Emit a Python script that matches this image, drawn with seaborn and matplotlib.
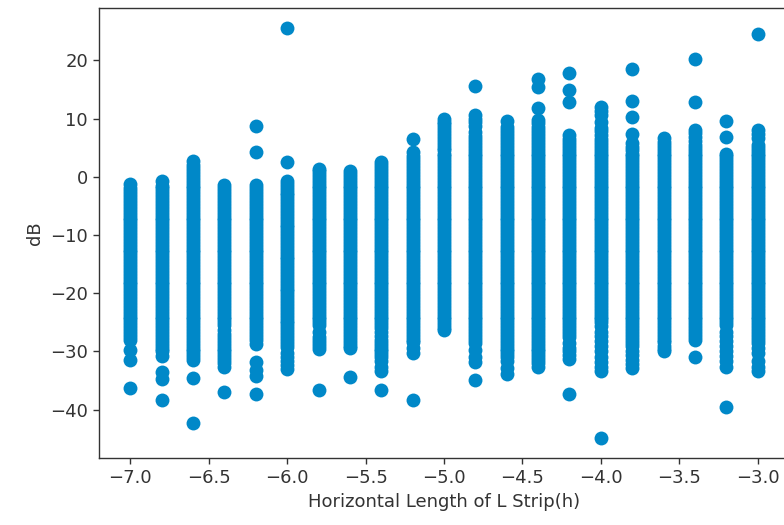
import pandas as pd
import matplotlib
matplotlib.use('Agg')
import matplotlib.pyplot as plt
import seaborn as sns

# values per column (dB)
h_values = [-7.0, -6.8, -6.6, -6.4, -6.2, -6.0, -5.8, -5.6, -5.4, -5.2, -5.0,
            -4.8, -4.6, -4.4, -4.2, -4.0, -3.8, -3.6, -3.4, -3.2, -3.0]

db_70 = [-1.3, -2, -2.5, -3, -3.5, -4, -4.5, -5, -5.5, -6, -6.5, -7, -7.5, -8, -8.5, -9,
         -9.5, -10, -10.5, -11, -11.5, -12, -12.5, -13, -13.5, -14, -14.5, -15, -15.5, -16,
         -16.5, -17, -17.5, -18, -18.5, -19, -19.5, -20, -20.5, -21, -21.5, -22, -22.5, -23,
         -23.5, -24, -24.5, -25, -25.5, -26, -26.5, -27, -27.5, -28, -29.7, -31.4, -36.3]
db_68 = [-0.7, -1.5, -2, -2.5, -3, -3.5, -4, -4.5, -5, -5.5, -6, -6.5, -7, -7.5, -8, -8.5,
         -9, -9.5, -10, -10.5, -11, -11.5, -12, -12.5, -13, -13.5, -14, -14.5, -15, -15.5,
         -16, -16.5, -17, -17.5, -18, -18.5, -19, -19.5, -20, -20.5, -21, -21.5, -22, -22.5,
         -23, -23.5, -24, -24.5, -25, -25.5, -26, -26.5, -27, -27.5, -28, -28.5, -29, -29.5,
         -30, -30.8, -33.6, -34.8, -38.3]
db_66 = [2.7, 2, 1.5, 1, 0.5, 0, -0.5, -1, -1.5, -2, -2.5, -3, -3.5, -4, -4.5, -5, -5.5,
         -6, -6.5, -7, -7.5, -8, -8.5, -9, -9.5, -10, -10.5, -11, -11.5, -12, -12.5, -13,
         -13.5, -14, -14.5, -15, -15.5, -16, -16.5, -17, -17.5, -18, -18.5, -19, -19.5, -20,
         -20.5, -21, -21.5, -22, -22.5, -23, -23.5, -24, -24.5, -25, -25.5, -26, -26.5, -27,
         -27.5, -28, -28.5, -29, -29.5, -30, -30.5, -31, -31.5, -34.5, -42.3]
db_64 = [-1.4, -2, -2.5, -3, -3.5, -4, -4.5, -5, -5.5, -6, -6.5, -7, -7.5, -8, -8.5, -9,
         -9.5, -10, -10.5, -11, -11.5, -12, -12.5, -13, -13.5, -14, -14.5, -15, -15.5, -16,
         -16.5, -17, -17.5, -18, -18.5, -19, -19.5, -20, -20.5, -21, -21.5, -22, -22.5, -23,
         -23.5, -24, -24.5, -25, -25.5, -26.3, -27, -27.5, -28, -28.5, -29, -29.5, -30,
         -30.5, -31, -31.5, -32, -32.7, -36.9]
db_62 = [8.8, 4.2, -1.4, -2, -2.5, -3, -3.5, -4, -4.5, -5, -5.5, -6, -6.5, -7, -7.5, -8,
         -8.5, -9, -9.5, -10, -10.5, -11, -11.5, -12, -12.5, -13, -13.5, -14, -14.5, -15,
         -15.5, -16, -16.5, -17, -17.5, -18, -18.5, -19, -19.5, -20, -20.5, -21, -21.5, -22,
         -22.5, -23, -23.5, -24, -24.5, -25, -25.5, -26, -26.5, -27, -27.5, -28, -28.8, -31.9,
         -33.2, -34.2, -37.3]
db_60 = [25.5, 2.5, -0.7, -1.2, -1.7, -2.2, -2.7, -3.2, -3.7, -4.2, -4.7, -5.2, -5.7, -6.2,
         -6.7, -7.2, -7.7, -8.2, -8.7, -9.2, -9.7, -10.2, -10.7, -11.2, -11.7, -12.2, -12.7,
         -13.2, -13.7, -14.2, -14.7, -15.2, -15.7, -16.2, -16.7, -17.2, -17.7, -18.2, -18.7,
         -19.2, -19.7, -20.2, -20.7, -21.2, -21.7, -22.2, -22.7, -23.2, -23.7, -24.2, -24.7,
         -25.2, -25.7, -26.2, -26.7, -27.2, -27.7, -28.2, -28.7, -29.2, -30.2, -31, -31.6,
         -32.3, -33.1]
db_58 = [1.4, 1, 0.5, 0, -0.5, -1, -1.5, -2, -2.5, -3, -3.5, -4, -4.5, -5, -5.5, -6, -6.5,
         -7, -7.5, -8, -8.5, -9, -9.5, -10, -10.5, -11, -11.5, -12, -12.5, -13, -13.5, -14,
         -14.5, -15, -15.5, -16, -16.5, -17, -17.5, -18, -18.5, -19, -19.5, -20, -20.5, -21,
         -21.5, -22, -22.5, -23, -23.5, -24, -24.5, -25, -25.5, -26.6, -27.5, -28, -28.5,
         -29, -29.6, -36.6]
db_56 = [1.0, 0.5, 0, -0.5, -1, -1.5, -2, -2.5, -3, -3.5, -4, -4.5, -5, -5.5, -6, -6.5, -7,
         -7.5, -8, -8.5, -9, -9.5, -10, -10.5, -11, -11.5, -12, -12.5, -13, -13.5, -14,
         -14.5, -15, -15.5, -16, -16.5, -17, -17.5, -18, -18.5, -19, -19.5, -20, -20.5, -21,
         -21.5, -22, -22.5, -23, -23.5, -24, -24.5, -25, -25.5, -26, -26.5, -27, -27.5, -28,
         -28.5, -29, -29.4, -34.4]
db_54 = [2.5, 2, 1.5, 1, 0.5, 0, -0.5, -1, -1.5, -2, -2.5, -3, -3.5, -4, -4.5, -5, -5.5,
         -6, -6.5, -7, -7.5, -8, -8.5, -9, -9.5, -10, -10.5, -11, -11.5, -12, -12.5, -13,
         -13.5, -14, -14.5, -15, -15.5, -16, -16.5, -17, -17.5, -18, -18.5, -19, -19.5, -20,
         -20.5, -21, -21.5, -22, -22.5, -23, -23.5, -24, -24.5, -25, -25.5, -26, -26.6,
         -27.4, -28, -28.5, -29, -29.5, -30, -30.5, -31, -31.7, -32.6, -33.4, -36.6]
db_52 = [6.5, 4.2, 3.5, 3, 2.5, 2, 1.5, 1, 0.5, 0, -0.5, -1, -1.5, -2, -2.5, -3, -3.5, -4,
         -4.5, -5, -5.5, -6, -6.5, -7, -7.5, -8, -8.5, -9, -9.5, -10, -10.5, -11, -11.5, -12,
         -12.5, -13, -13.5, -14, -14.5, -15, -15.5, -16, -16.5, -17, -17.5, -18, -18.5, -19,
         -19.5, -20, -20.5, -21, -21.5, -22, -22.5, -23, -23.5, -24, -24.5, -25, -25.5, -26,
         -26.5, -27, -27.5, -28, -28.3, -29.4, -30.2, -38.4]
db_50 = [9.9, 9.5, 9, 8.5, 8, 7.5, 7, 6.5, 6, 5.5, 5, 4.6, 4, 3.5, 3, 2.5, 2, 1.5, 1, 0.5,
         0, -0.5, -1, -1.5, -2, -2.5, -3, -3.5, -4, -4.5, -5, -5.5, -6, -6.5, -7, -7.5, -8,
         -8.5, -9, -9.5, -10, -10.5, -11, -11.5, -12, -12.5, -13, -13.5, -14, -14.5, -15,
         -15.5, -16, -16.5, -17, -17.5, -18, -18.5, -19, -19.5, -20, -20.5, -21, -21.5, -22,
         -22.5, -23, -23.5, -24, -24.5, -25, -25.5, -26, -26.4]
db_48 = [15.6, 10.6, 10, 9.5, 8.8, 7.7, 7, 6.5, 6, 5.5, 5, 4.5, 4, 3.5, 3, 2.5, 2, 1.5, 1,
         0.5, 0, -0.5, -1, -1.5, -2, -2.5, -3, -3.5, -4, -4.5, -5, -5.5, -6, -6.5, -7, -7.5,
         -8, -8.5, -9, -9.5, -10, -10.5, -11, -11.5, -12, -12.5, -13, -13.5, -14, -14.5, -15,
         -15.5, -16, -16.5, -17, -17.5, -18, -18.5, -19, -19.5, -20, -20.5, -21, -21.5, -22,
         -22.5, -23, -23.5, -24, -24.5, -25, -25.5, -26, -26.5, -27, -27.5, -28, -28.5,
         -29.7, -30.9, -31.9, -34.9]
db_46 = [9.6, 8.6, 8, 7.5, 7, 6.5, 6, 5.5, 5, 4.5, 4, 3.5, 3, 2.5, 2, 1.5, 1, 0.5, 0, -0.5,
         -1, -1.5, -2, -2.5, -3, -3.5, -4, -4.5, -5, -5.5, -6, -6.5, -7, -7.5, -8, -8.5, -9,
         -9.5, -10, -10.5, -11, -11.5, -12, -12.5, -13, -13.5, -14, -14.5, -15, -15.5, -16,
         -16.5, -17, -17.5, -18, -18.5, -19, -19.5, -20, -20.5, -21, -21.5, -22, -22.5, -23,
         -23.5, -24, -24.5, -25, -25.5, -26, -26.5, -27, -27.5, -28, -28.5, -29, -29.5, -30,
         -30.5, -31, -31.7, -32.9, -33.9]
db_44 = [16.8, 15.5, 11.9, 9.8, 9.2, 8.6, 8, 7.5, 7, 6.5, 6, 5.5, 5, 4.5, 4, 3.5, 3, 2.5, 2,
         1.5, 1, 0.5, 0, -0.5, -1, -1.5, -2, -2.5, -3, -3.5, -4, -4.5, -5, -5.5, -6, -6.5, -7,
         -7.5, -8, -8.5, -9, -9.5, -10, -10.5, -11, -11.5, -12, -12.5, -13, -13.5, -14, -14.5,
         -15, -15.5, -16, -16.5, -17, -17.5, -18, -18.5, -19, -19.5, -20, -20.5, -21, -21.5,
         -22, -22.5, -23, -23.5, -24, -24.5, -25, -25.5, -26, -26.5, -27, -27.5, -28, -28.5,
         -29, -29.5, -30, -30.5, -31, -31.5, -32, -32.7]
db_42 = [17.8, 14.9, 12.9, 7.2, 6.5, 6, 5.5, 5, 4.5, 4, 3.5, 3, 2.5, 2, 1.5, 1, 0.5, 0,
         -0.5, -1, -1.5, -2, -2.5, -3, -3.5, -4, -4.5, -5, -5.5, -6, -6.5, -7, -7.5, -8, -8.5,
         -9, -9.5, -10, -10.5, -11, -11.5, -12, -12.5, -13, -13.5, -14, -14.5, -15, -15.5,
         -16, -16.5, -17, -17.5, -18, -18.5, -19, -19.5, -20, -20.5, -21, -21.5, -22, -22.5,
         -23, -23.5, -24, -24.5, -25, -25.5, -26, -26.5, -27, -27.5, -28.6, -29.4, -30,
         -30.6, -31.3, -37.3]
db_40 = [12.0, 11.3, 10.6, 9.5, 8.4, 7.8, 7.2, 6.5, 6, 5.5, 5, 4.5, 4, 3.5, 3, 2.5, 2, 1.5,
         1, 0.5, 0, -0.5, -1, -1.5, -2, -2.5, -3, -3.5, -4, -4.5, -5, -5.5, -6, -6.5, -7,
         -7.5, -8, -8.5, -9, -9.5, -10, -10.5, -11, -11.5, -12, -12.5, -13, -13.5, -14, -14.5,
         -15, -15.5, -16, -16.5, -17, -17.5, -18, -18.5, -19, -19.5, -20, -20.5, -21, -21.5,
         -22, -22.5, -23, -23.5, -24, -24.5, -25, -25.6, -26.6, -27.4, -28.2, -29, -30.0,
         -31, -31.9, -32.6, -33.4, -44.8]
db_38 = [18.5, 13.1, 10.3, 7.3, 5.8, 5.2, 4.6, 4, 3.5, 3, 2.5, 2, 1.5, 1, 0.5, 0, -0.5, -1,
         -1.5, -2, -2.5, -3, -3.5, -4, -4.5, -5, -5.5, -6, -6.5, -7, -7.5, -8, -8.5, -9, -9.5,
         -10, -10.5, -11, -11.5, -12, -12.5, -13, -13.5, -14, -14.5, -15, -15.5, -16, -16.5,
         -17, -17.5, -18, -18.5, -19, -19.5, -20, -20.5, -21, -21.5, -22, -22.5, -23, -23.5,
         -24, -24.5, -25, -25.5, -26, -26.5, -27, -27.5, -28, -28.5, -29, -29.9, -30.7,
         -31.5, -32.2, -32.8]
db_36 = [6.6, 6, 5.5, 5, 4.5, 4, 3.5, 3, 2.5, 2, 1.5, 1, 0.5, 0, -0.5, -1, -1.5, -2, -2.5,
         -3, -3.5, -4, -4.5, -5, -5.5, -6, -6.5, -7, -7.5, -8, -8.5, -9, -9.5, -10, -10.5, -11,
         -11.5, -12, -12.5, -13, -13.5, -14, -14.5, -15, -15.5, -16, -16.5, -17, -17.5, -18,
         -18.5, -19, -19.5, -20, -20.5, -21, -21.5, -22, -22.5, -23, -23.5, -24, -24.5, -25,
         -25.5, -26, -26.5, -27, -27.5, -28, -28.4, -29.0, -29.5, -30.0]
db_34 = [20.2, 12.8, 8.1, 7.5, 6.8, 6.1, 5.5, 5, 4.5, 4, 3.5, 3, 2.5, 2, 1.5, 1, 0.5, 0,
         -0.5, -1, -1.5, -2, -2.5, -3, -3.5, -4, -4.5, -5, -5.5, -6, -6.5, -7, -7.5, -8, -8.5,
         -9, -9.5, -10, -10.5, -11, -11.5, -12, -12.5, -13, -13.5, -14, -14.5, -15, -15.5,
         -16, -16.5, -17, -17.5, -18, -18.5, -19, -19.5, -20, -20.5, -21, -21.5, -22, -22.5,
         -23, -23.5, -24, -24.5, -25, -25.5, -26, -26.5, -27, -27.5, -28.0, -31.0]
db_32 = [9.6, 6.8, 4.0, 3.5, 3, 2.5, 2, 1.5, 1, 0.5, 0, -0.5, -1, -1.5, -2, -2.5, -3, -3.5,
         -4, -4.5, -5, -5.5, -6, -6.5, -7, -7.5, -8, -8.5, -9, -9.5, -10, -10.5, -11, -11.5,
         -12, -12.5, -13, -13.5, -14, -14.5, -15, -15.5, -16, -16.5, -17, -17.5, -18, -18.5,
         -19, -19.5, -20, -20.5, -21, -21.5, -22, -22.5, -23, -23.5, -24, -24.5, -25, -25.5,
         -26.6, -27.4, -28.2, -29, -30.0, -30.8, -31.7, -32.6, -39.5]
db_30 = [24.5, 8.1, 7.4, 6.6, 5.5, 5, 4.5, 4, 3.5, 3, 2.5, 2, 1.5, 1, 0.5, 0, -0.5, -1,
         -1.5, -2, -2.5, -3, -3.5, -4, -4.5, -5, -5.5, -6, -6.5, -7, -7.5, -8, -8.5, -9, -9.5,
         -10, -10.5, -11, -11.5, -12, -12.5, -13, -13.5, -14, -14.5, -15, -15.5, -16, -16.5,
         -17, -17.5, -18, -18.5, -19, -19.5, -20, -20.5, -21, -21.5, -22, -22.5, -23, -23.5,
         -24, -24.5, -25, -25.5, -26, -26.5, -27, -27.5, -28, -28.5, -29.4, -30.3, -31.7,
         -32.6, -33.4]

columns = [db_70, db_68, db_66, db_64, db_62, db_60, db_58, db_56, db_54, db_52, db_50,
           db_48, db_46, db_44, db_42, db_40, db_38, db_36, db_34, db_32, db_30]

rows = []
for h, vals in zip(h_values, columns):
    for v in vals:
        rows.append({'h': h, 'dB': v})
df = pd.DataFrame(rows)

plt.rcParams['font.family'] = ['DejaVu Sans']
plt.rcParams['font.size'] = 13
plt.rcParams['axes.linewidth'] = 1.0
plt.rcParams['xtick.major.size'] = 4.5
plt.rcParams['ytick.major.size'] = 4.5
plt.rcParams['xtick.major.width'] = 1.0
plt.rcParams['ytick.major.width'] = 1.0
plt.rcParams['text.color'] = '#333333'
plt.rcParams['axes.labelcolor'] = '#333333'
plt.rcParams['xtick.color'] = '#333333'
plt.rcParams['ytick.color'] = '#333333'
plt.rcParams['axes.edgecolor'] = '#333333'

fig = plt.figure(figsize=(7.84, 5.25), dpi=100)
ax = fig.add_axes([0.1263, 0.1276, 0.8801, 0.8572])
sns.scatterplot(data=df, x='h', y='dB', color='#0088c8', s=100, linewidth=0, ax=ax)
ax.set_xlabel('Horizontal Length of L Strip(h)')
ax.set_ylabel('dB')
ax.margins(0.05)
plt.savefig('out.png', dpi=100)
